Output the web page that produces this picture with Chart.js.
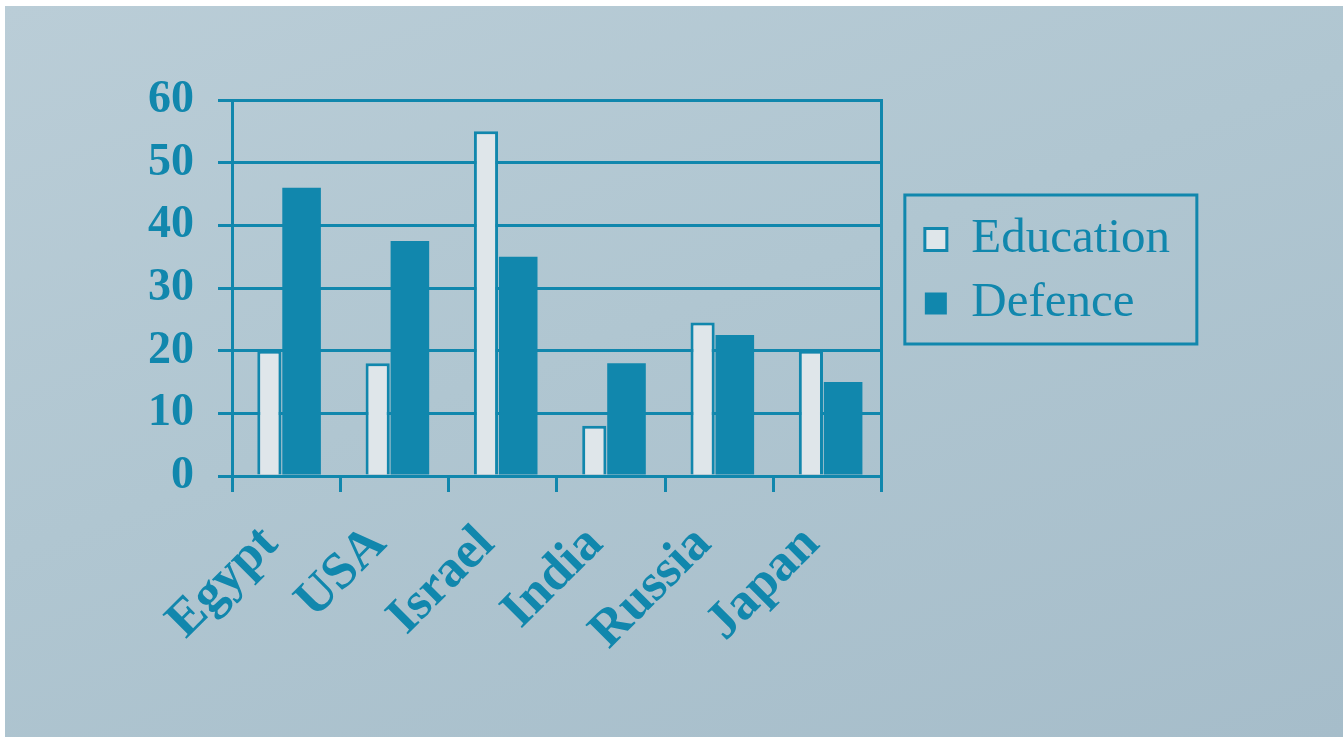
<!DOCTYPE html>
<html>
<head>
<meta charset="utf-8">
<script src="https://cdn.jsdelivr.net/npm/chart.js@4/dist/chart.umd.min.js"></script>
<style>
 body { margin: 0; background: #fff; }
 #wrap {
  position: absolute; left: 5px; top: 6px; width: 1338px; height: 731px;
  background: linear-gradient(160deg, #bacdd7 0%, #b0c6d1 45%, #a6bdca 100%);
 }
</style>
</head>
<body>
<div id="wrap"><canvas id="budgetChart"></canvas></div>
<script>
const countries = ["Egypt", "USA", "Israel", "India", "Russia", "Japan"];
const education = [20, 18, 55, 8, 24.5, 20];
const defence = [46, 37.5, 35, 18, 22.5, 15];
const yTicks = [0, 10, 20, 30, 40, 50, 60];

const teal = "#1187ad";
const paper = "#dfe6ea";

// box round the legend, like the printed one
const legendFrame = {
 id: "legendFrame",
 afterDraw(chart) {
  const boxes = chart.legend.legendHitBoxes;
  if (!boxes || !boxes.length) return;
  const ctx = chart.ctx;
  const first = boxes[0];
  const last = boxes[boxes.length - 1];
  const left = first.left - 20;
  const top = first.top - 20;
  const bottom = last.top + last.height + 16;
  ctx.save();
  ctx.strokeStyle = teal;
  ctx.lineWidth = 3;
  ctx.strokeRect(left, top, 292, bottom - top);
  ctx.restore();
 },
};

document.addEventListener("DOMContentLoaded", () => {
 const ctx = document.getElementById("budgetChart").getContext("2d");

 new Chart(ctx, {
  type: "bar",
  data: {
   labels: countries,
   datasets: [
    {
     label: "Education",
     data: education,
     backgroundColor: paper,
     borderColor: teal,
     borderWidth: 3,
     categoryPercentage: 0.62,
     barPercentage: 0.72,
    },
    {
     label: "Defence",
     data: defence,
     backgroundColor: teal,
     borderColor: teal,
     borderWidth: 0,
     categoryPercentage: 0.57,
     barPercentage: 1.25,
    },
   ],
  },
  options: {
   responsive: true,
   maintainAspectRatio: false,
   animation: false,
   layout: { padding: { top: 94, right: 163, bottom: 0, left: 0 } },
   plugins: {
    tooltip: { enabled: false },
    legend: {
     position: "right",
     align: "start",
     maxWidth: 420,
     title: {
      display: true,
      text: " ",
      font: { size: 10 },
      padding: { top: 88, bottom: 0 },
     },
     labels: {
      color: teal,
      font: { family: "Liberation Serif", size: 49 },
      boxWidth: 22,
      boxHeight: 22,
      padding: 15,
     },
    },
   },
   scales: {
    x: {
     grid: {
      offset: true,
      drawOnChartArea: false,
      color: teal,
      lineWidth: 3,
      tickLength: 16,
     },
     border: { color: teal, width: 3 },
     ticks: {
      color: teal,
      font: { family: "Liberation Serif", size: 52, weight: "bold" },
      minRotation: 45,
      maxRotation: 45,
      padding: 22,
      labelOffset: -16,
     },
     afterFit(scale) {
      scale.height = 261;
     },
    },
    y: {
     min: 0,
     max: 60,
     afterBuildTicks(scale) {
      scale.ticks = yTicks.map((v) => ({ value: v }));
     },
     grid: { color: teal, lineWidth: 3, tickLength: 14 },
     border: { color: teal, width: 3 },
     ticks: {
      color: teal,
      font: { family: "Liberation Serif", size: 46, weight: "bold" },
      padding: 24,
     },
     afterFit(scale) {
      scale.width = 227;
     },
    },
    y2: {
     position: "right",
     min: 0,
     max: 60,
     grid: { display: false },
     border: { color: teal, width: 3 },
     ticks: { display: false },
     afterFit(scale) {
      scale.width = 28;
     },
    },
   },
  },
  plugins: [legendFrame],
 });
});
</script>
</body>
</html>
